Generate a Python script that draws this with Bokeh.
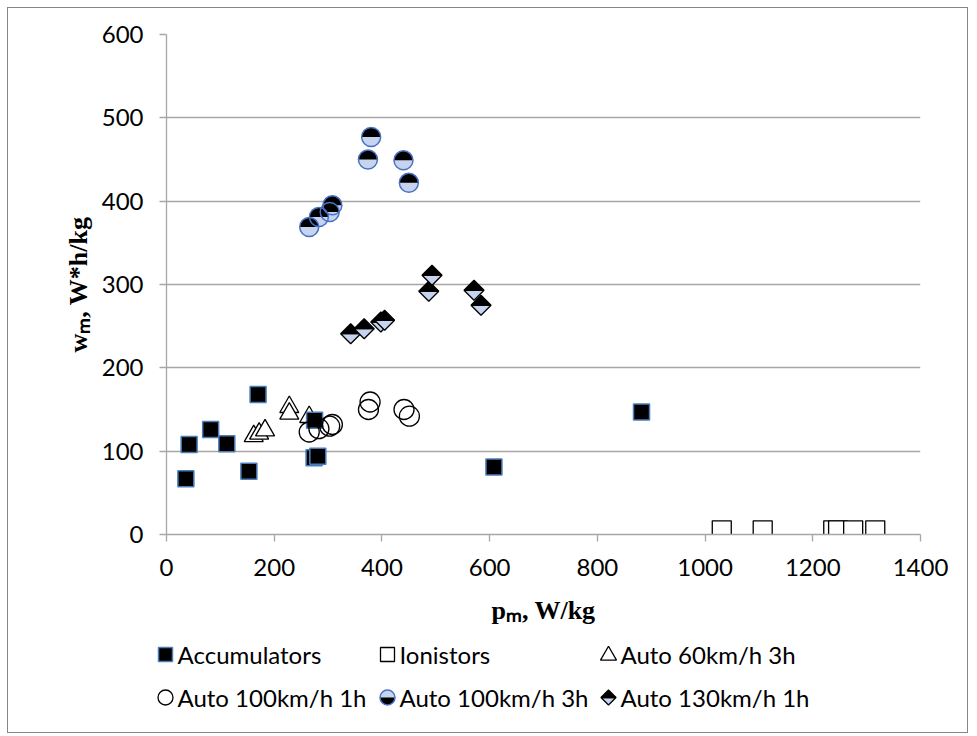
import numpy as np
from bokeh.plotting import figure
from bokeh.models import Range1d, FixedTicker
from bokeh.layouts import column
from bokeh.embed import file_html
from bokeh.resources import INLINE
from bokeh.core.properties import value

# ---------------- data ----------------
acc_x = [36, 42, 82, 112, 153, 170, 275, 274, 281, 608, 882]
acc_y = [67, 108, 126, 109, 76, 168, 137, 92, 94, 81, 147]
ion_x = [1031, 1107, 1238, 1247, 1275, 1316]
ion_y = [5, 5, 5, 5, 5, 5]
a60_x = [162, 172, 183, 228, 228, 265]
a60_y = [118, 121, 125, 153, 145, 141]
a100h1_x = [265, 283, 303, 308, 375, 378, 441, 451]
a100h1_y = [123, 127, 130, 132, 150, 159, 150, 142]
a100h3_x = [265, 283, 303, 308, 374, 380, 440, 450]
a100h3_y = [369, 381, 387, 395, 450, 477, 449, 422]
a130_x = [342, 367, 398, 405, 487, 493, 571, 584]
a130_y = [241, 247, 255, 257, 292, 311, 293, 275]

x_ticks = [0, 200, 400, 600, 800, 1000, 1200, 1400]
y_ticks = [0, 100, 200, 300, 400, 500, 600]
series_names = ["Accumulators", "Ionistors", "Auto 60km/h 3h",
                "Auto 100km/h 1h", "Auto 100km/h 3h", "Auto 130km/h 1h"]

# ---------------- layout constants ----------------
OFF = 8                      # chart box offset in the page
W, H = 959, 724              # chart box size
FL, FT, FW, FH = 158, 26, 754, 500
MAIN_H = 628
XMAX, YMAX = 1400, 600
LIGHT = "#c6d4ef"
BLUE = "#4a72c4"
SQBLUE = "#4a7ebb"
GRID = "#a6a6a6"
TICK_FONT = "Lato"
TITLE_FONT = "Liberation Serif"

p = figure(width=W, height=MAIN_H, x_range=Range1d(0, XMAX), y_range=Range1d(0, YMAX),
           output_backend="svg", toolbar_location=None,
           min_border_left=FL, min_border_right=W - FL - FW,
           min_border_top=FT, min_border_bottom=MAIN_H - FT - FH)
p.frame_align = False
p.outline_line_color = None
p.background_fill_color = "white"
p.border_fill_color = "white"

p.xaxis.ticker = FixedTicker(ticks=x_ticks)
p.yaxis.ticker = FixedTicker(ticks=y_ticks)
for ax in (p.xaxis[0], p.yaxis[0]):
    ax.axis_line_color = GRID
    ax.axis_line_width = 1.3
    ax.major_tick_line_color = GRID
    ax.major_tick_line_width = 1.3
    ax.major_tick_out = 7
    ax.major_tick_in = 0
    ax.minor_tick_line_color = None
    ax.major_label_text_font = TICK_FONT
    ax.major_label_text_font_size = "24px"
    ax.major_label_text_color = "black"
    ax.axis_label_text_font = TITLE_FONT
    ax.axis_label_text_font_style = "bold"
    ax.axis_label_text_font_size = "26px"
    ax.axis_label_text_color = "black"
p.xaxis.major_label_standoff = 17
p.yaxis.major_label_standoff = 16
p.xaxis.axis_label_standoff = 17
p.yaxis.axis_label_standoff = 6
p.xaxis.axis_label = "pₘ, W/kg"
p.yaxis.axis_label = "wₘ, W*h/kg"

p.xgrid.grid_line_color = None
p.ygrid.grid_line_color = GRID
p.ygrid.grid_line_width = 1.3

sx = FW / XMAX
sy = FH / YMAX

# Auto 60km/h 3h : open triangles
p.scatter(a60_x, a60_y, marker="triangle", size=19, fill_color="white",
          line_color="black", line_width=1.3)

# Accumulators : black squares with blue outline
p.scatter(acc_x, acc_y, marker="square", size=16, fill_color="black",
          line_color=SQBLUE, line_width=1.5)

# Ionistors : open squares
p.scatter(ion_x, ion_y, marker="square", size=19, fill_color="white",
          line_color="black", line_width=1.3)

# Auto 100km/h 1h : open circles
p.scatter(a100h1_x, a100h1_y, marker="circle", size=20, fill_alpha=0,
          line_color="black", line_width=1.3)

# Auto 100km/h 3h : half black / half light blue circles
p.scatter(a100h3_x, a100h3_y, marker="circle", size=19, fill_color=LIGHT, line_color=None)
p.wedge(a100h3_x, a100h3_y, radius=9.5, radius_units="screen", start_angle=0,
        end_angle=np.pi, fill_color="black", line_color=None)
p.scatter(a100h3_x, a100h3_y, marker="circle", size=19, fill_alpha=0,
          line_color=BLUE, line_width=1.5)

# Auto 130km/h 1h : diamonds, black top half
d = 10
dx, dy = d / sx, d / sy
xs, ys, fills = [], [], []
for x, y in zip(a130_x, a130_y):
    xs.append([x - dx, x + dx, x]); ys.append([y, y, y - dy]); fills.append(LIGHT)
    xs.append([x - dx, x + dx, x]); ys.append([y, y, y + dy]); fills.append("black")
p.patches(xs, ys, fill_color=fills, line_color="black", line_width=1.3)

# ---------------- legend (separate strip, pixel coordinates) ----------------
LH = H - MAIN_H
leg = figure(width=W, height=LH, x_range=Range1d(0, W), y_range=Range1d(LH, 0),
             output_backend="svg", toolbar_location=None, min_border=0,
             x_axis_location=None, y_axis_location=None)
leg.frame_align = False
leg.grid.visible = False
leg.outline_line_color = None
leg.background_fill_color = "white"
leg.border_fill_color = "white"

col_x = [157, 379, 600]
row_y = [18, 61]
ms = 15
mpos = [(col_x[i % 3], row_y[i // 3]) for i in range(6)]

(x0, y0), (x1, y1), (x2, y2), (x3, y3), (x4, y4), (x5, y5) = mpos
leg.scatter([x0], [y0], marker="square", size=ms - 1, fill_color="black", line_color=SQBLUE, line_width=1.5)
leg.scatter([x1], [y1], marker="square", size=ms - 1, fill_color="white", line_color="black", line_width=1.3)
leg.scatter([x2], [y2 + 1], marker="triangle", size=ms + 1, fill_color="white", line_color="black", line_width=1.3)
leg.scatter([x3], [y3], marker="circle", size=ms, fill_color="white", line_color="black", line_width=1.3)
leg.scatter([x4], [y4], marker="circle", size=ms, fill_color=LIGHT, line_color=None)
leg.wedge([x4], [y4], radius=ms / 2, radius_units="screen", start_angle=np.pi, end_angle=2 * np.pi,
          fill_color="black", line_color=None)
leg.scatter([x4], [y4], marker="circle", size=ms, fill_alpha=0, line_color=BLUE, line_width=1.5)
h = ms / 2
leg.patches([[x5 - h, x5 + h, x5], [x5 - h, x5 + h, x5]], [[y5, y5, y5 + h], [y5, y5, y5 - h]],
            fill_color=[LIGHT, "black"], line_color="black", line_width=1.3)

leg.text([m[0] + 12 for m in mpos], [m[1] for m in mpos], text=series_names,
         text_font=value(TICK_FONT), text_font_size=value("24px"),
         text_baseline="middle", text_align="left", text_color="black")

layout = column(p, leg, spacing=0,
                styles={"margin-left": f"{OFF}px", "margin-top": f"{OFF}px",
                        "outline": "1px solid #868686", "outline-offset": "0px"})

open("out.html", "w").write(file_html(layout, INLINE))
